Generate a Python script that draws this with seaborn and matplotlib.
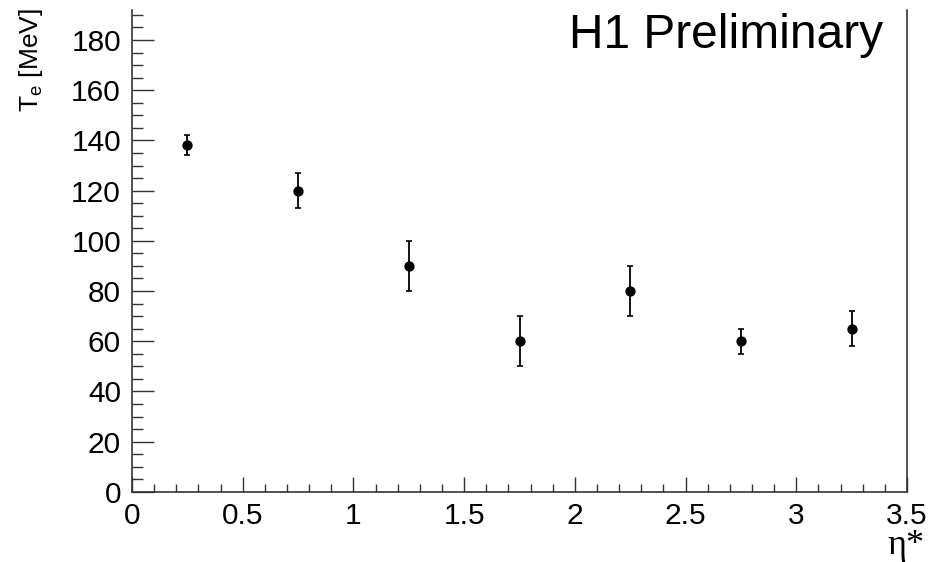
import numpy as np
import pandas as pd
import matplotlib
matplotlib.use("Agg")
import matplotlib.pyplot as plt
from matplotlib.ticker import MultipleLocator
import seaborn as sns

# Data
eta_star = [0.25, 0.75, 1.25, 1.75, 2.25, 2.75, 3.25]
temperature = [138, 120, 90, 60, 80, 60, 65]
temperature_err = [4, 7, 10, 10, 10, 5, 7]

x_ticks = [0, 0.5, 1, 1.5, 2, 2.5, 3, 3.5]
x_tick_labels = ["0", "0.5", "1", "1.5", "2", "2.5", "3", "3.5"]
y_ticks = [0, 20, 40, 60, 80, 100, 120, 140, 160, 180]
y_tick_labels = [str(v) for v in y_ticks]

sns.set_theme(style="ticks")
plt.rcParams["font.family"] = ["Liberation Sans", "DejaVu Sans"]

df = pd.DataFrame({"eta": eta_star, "T": temperature, "err": temperature_err})

fig = plt.figure(figsize=(9.52, 5.62), dpi=100)
ax = fig.add_axes([132 / 952, 1 - 491.9 / 562, (907 - 132) / 952, (491.9 - 10) / 562])

ax.errorbar(df["eta"], df["T"], yerr=df["err"], fmt="none", ecolor="black",
            elinewidth=1.3, capsize=2.5, capthick=1.2, zorder=2)
sns.scatterplot(data=df, x="eta", y="T", ax=ax, color="black", s=55,
                edgecolor="black", linewidth=0, zorder=3, legend=False)

ax.set_xlim(0, 3.5)
ax.set_ylim(0, (491.9 - 10) / 2.5106)

ax.set_xticks(x_ticks)
ax.set_xticklabels(x_tick_labels)
ax.set_yticks(y_ticks)
ax.set_yticklabels(y_tick_labels)
ax.xaxis.set_minor_locator(MultipleLocator(0.1))
ax.yaxis.set_minor_locator(MultipleLocator(5))

ax.tick_params(axis="x", which="major", direction="in", length=10.8, width=1.0,
               labelsize=21.5, pad=7, color="#333333", labelcolor="black")
ax.tick_params(axis="x", which="minor", direction="in", length=5.8, width=1.0, color="#333333")
ax.tick_params(axis="y", which="major", direction="in", length=15.8, width=1.0,
               labelsize=21.5, pad=8, color="#333333", labelcolor="black")
ax.tick_params(axis="y", which="minor", direction="in", length=7.9, width=1.0, color="#333333")

ax.spines["top"].set_visible(False)
for s in ["left", "bottom", "right"]:
    ax.spines[s].set_color("#333333")
    ax.spines[s].set_linewidth(1.2)

ax.set_xlabel("")
ax.set_ylabel("")

fig.text(883 / 952, 1 - 48 / 562, "H1 Preliminary", ha="right", va="baseline",
         fontsize=34.5, color="black")
fig.text(31 / 952, 1 - 112 / 562, r"T$_{\mathregular{e}}$ [MeV]", rotation=90,
         ha="center", va="bottom", fontsize=19, color="black")
fig.text(925 / 952, 1 - 554 / 562, "η*", ha="right", va="baseline",
         fontsize=26, color="black", family="Liberation Serif")

fig.savefig("out.png", dpi=100)
